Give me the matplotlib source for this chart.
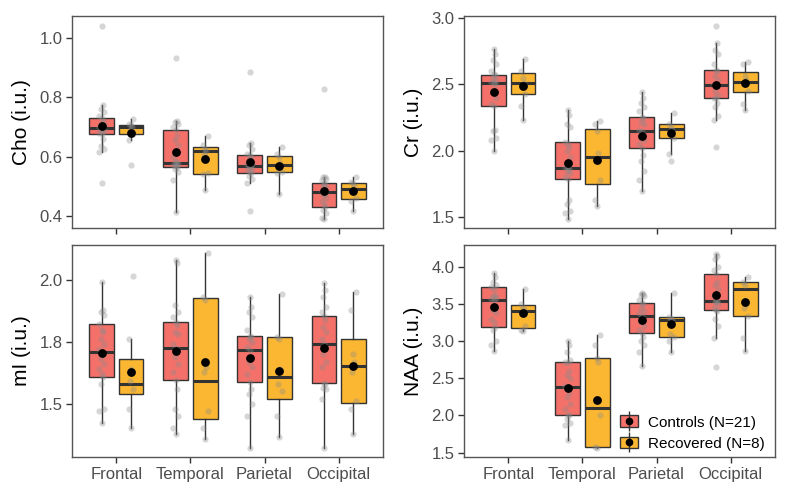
import numpy as np
from matplotlib import pyplot as plt
from matplotlib.patches import Patch
from matplotlib.lines import Line2D

plt.rcParams['font.family'] = ['Liberation Sans', 'DejaVu Sans']

regions = ['Frontal', 'Temporal', 'Parietal', 'Occipital']
groups = ['Controls (N=21)', 'Recovered (N=8)']
colors = ['#F4716A', '#FBB731']

# box rows: [whisker low, q1, median, q3, whisker high], one row per region
cho_ctl_box = [[0.615, 0.677, 0.696, 0.730, 0.774],
               [0.415, 0.565, 0.577, 0.690, 0.719],
               [0.512, 0.546, 0.569, 0.604, 0.645],
               [0.390, 0.431, 0.480, 0.513, 0.532]]
cho_ctl_mean = [0.704, 0.615, 0.583, 0.485]
cho_rec_box = [[0.655, 0.675, 0.701, 0.707, 0.727],
               [0.487, 0.542, 0.619, 0.632, 0.668],
               [0.473, 0.548, 0.573, 0.603, 0.634],
               [0.418, 0.456, 0.492, 0.512, 0.532]]
cho_rec_mean = [0.681, 0.592, 0.570, 0.483]
cho_ctl_pts = [[0.51, 0.615, 0.625, 0.635, 0.66, 0.677, 0.68, 0.685, 0.69, 0.693, 0.696,
                0.70, 0.705, 0.71, 0.72, 0.73, 0.735, 0.75, 0.76, 0.774, 1.04],
               [0.415, 0.52, 0.55, 0.56, 0.565, 0.57, 0.572, 0.575, 0.577, 0.58, 0.585,
                0.60, 0.64, 0.655, 0.67, 0.69, 0.70, 0.71, 0.715, 0.719, 0.931],
               [0.418, 0.512, 0.525, 0.535, 0.546, 0.55, 0.555, 0.56, 0.565, 0.569, 0.572,
                0.575, 0.58, 0.59, 0.60, 0.604, 0.61, 0.625, 0.64, 0.645, 0.883],
               [0.39, 0.395, 0.41, 0.42, 0.431, 0.44, 0.45, 0.46, 0.47, 0.475, 0.48,
                0.485, 0.49, 0.50, 0.505, 0.513, 0.52, 0.525, 0.53, 0.532, 0.829]]
cho_rec_pts = [[0.573, 0.655, 0.675, 0.69, 0.70, 0.705, 0.71, 0.727],
               [0.487, 0.54, 0.545, 0.61, 0.62, 0.625, 0.64, 0.668],
               [0.473, 0.545, 0.55, 0.565, 0.58, 0.60, 0.61, 0.634],
               [0.418, 0.45, 0.46, 0.48, 0.50, 0.51, 0.515, 0.532]]

cr_ctl_box = [[1.999, 2.333, 2.510, 2.572, 2.768],
              [1.486, 1.785, 1.871, 2.066, 2.303],
              [1.700, 2.024, 2.146, 2.253, 2.440],
              [2.235, 2.395, 2.497, 2.609, 2.810]]
cr_ctl_mean = [2.440, 1.912, 2.108, 2.497]
cr_rec_box = [[2.228, 2.427, 2.507, 2.581, 2.689],
              [1.587, 1.747, 1.954, 2.166, 2.223],
              [1.979, 2.099, 2.166, 2.198, 2.283],
              [2.303, 2.440, 2.519, 2.589, 2.669]]
cr_rec_mean = [2.490, 1.934, 2.136, 2.507]
cr_ctl_pts = [[2.0, 2.08, 2.1, 2.15, 2.16, 2.333, 2.35, 2.4, 2.45, 2.5, 2.51,
               2.52, 2.53, 2.55, 2.57, 2.575, 2.6, 2.65, 2.68, 2.73, 2.768],
              [1.486, 1.53, 1.55, 1.6, 1.63, 1.785, 1.8, 1.83, 1.85, 1.86, 1.871,
               1.88, 1.95, 2.0, 2.03, 2.05, 2.066, 2.18, 2.2, 2.27, 2.303],
              [1.70, 1.78, 1.85, 1.92, 1.97, 2.024, 2.05, 2.08, 2.1, 2.12, 2.146,
               2.16, 2.2, 2.22, 2.25, 2.253, 2.3, 2.33, 2.36, 2.4, 2.44],
              [2.029, 2.235, 2.26, 2.33, 2.36, 2.395, 2.40, 2.42, 2.45, 2.48, 2.497,
               2.5, 2.53, 2.56, 2.6, 2.609, 2.65, 2.73, 2.76, 2.81, 2.938]]
cr_rec_pts = [[2.228, 2.34, 2.43, 2.48, 2.51, 2.55, 2.6, 2.689],
              [1.587, 1.63, 1.78, 1.93, 1.98, 2.15, 2.2, 2.223],
              [1.922, 1.979, 2.1, 2.13, 2.16, 2.18, 2.2, 2.283],
              [2.303, 2.35, 2.45, 2.5, 2.53, 2.56, 2.65, 2.669]]

mi_ctl_box = [[1.422, 1.608, 1.707, 1.822, 1.993],
              [1.376, 1.595, 1.727, 1.831, 2.081],
              [1.322, 1.588, 1.716, 1.773, 1.932],
              [1.322, 1.584, 1.741, 1.855, 1.989]]
mi_ctl_mean = [1.705, 1.712, 1.686, 1.726]
mi_rec_box = [[1.403, 1.538, 1.581, 1.682, 1.761],
              [1.358, 1.439, 1.591, 1.926, 2.108],
              [1.365, 1.520, 1.608, 1.768, 1.943],
              [1.376, 1.503, 1.651, 1.761, 1.953]]
mi_rec_mean = [1.628, 1.669, 1.632, 1.653]
mi_ctl_pts = [[1.422, 1.47, 1.48, 1.58, 1.608, 1.62, 1.64, 1.66, 1.68, 1.70, 1.707,
               1.72, 1.74, 1.76, 1.79, 1.80, 1.822, 1.86, 1.87, 1.88, 1.993],
              [1.376, 1.40, 1.45, 1.48, 1.56, 1.595, 1.63, 1.66, 1.69, 1.72, 1.727,
               1.74, 1.78, 1.79, 1.82, 1.831, 1.85, 1.87, 1.90, 2.07, 2.081],
              [1.322, 1.45, 1.50, 1.54, 1.56, 1.588, 1.62, 1.65, 1.67, 1.69, 1.716,
               1.73, 1.75, 1.76, 1.77, 1.773, 1.80, 1.85, 1.87, 1.89, 1.932],
              [1.322, 1.52, 1.56, 1.565, 1.58, 1.584, 1.65, 1.67, 1.70, 1.72, 1.741,
               1.76, 1.79, 1.81, 1.84, 1.855, 1.87, 1.89, 1.93, 1.96, 1.989]]
mi_rec_pts = [[1.403, 1.48, 1.56, 1.59, 1.63, 1.64, 1.761, 2.018],
              [1.358, 1.40, 1.47, 1.63, 1.65, 1.92, 1.93, 2.108],
              [1.365, 1.45, 1.55, 1.58, 1.64, 1.76, 1.77, 1.943],
              [1.376, 1.48, 1.51, 1.63, 1.67, 1.70, 1.88, 1.953]]

naa_ctl_box = [[2.869, 3.192, 3.551, 3.722, 3.910],
               [1.666, 2.003, 2.384, 2.712, 3.000],
               [2.667, 3.102, 3.336, 3.506, 3.641],
               [3.035, 3.417, 3.542, 3.901, 4.171]]
naa_ctl_mean = [3.461, 2.375, 3.282, 3.618]
naa_rec_box = [[3.130, 3.170, 3.408, 3.484, 3.695],
               [1.560, 1.576, 2.101, 2.770, 3.080],
               [2.855, 3.057, 3.282, 3.327, 3.641],
               [2.869, 3.336, 3.695, 3.798, 3.865]]
naa_rec_mean = [3.381, 2.205, 3.224, 3.529]
naa_ctl_pts = [[2.869, 2.95, 3.0, 3.15, 3.192, 3.25, 3.3, 3.38, 3.42, 3.45, 3.551,
                3.56, 3.58, 3.6, 3.62, 3.7, 3.722, 3.75, 3.8, 3.86, 3.91],
               [1.666, 1.87, 1.9, 1.95, 2.0, 2.003, 2.08, 2.15, 2.25, 2.3, 2.384,
                2.4, 2.5, 2.55, 2.6, 2.7, 2.712, 2.75, 2.85, 2.95, 3.0],
               [2.667, 2.85, 2.95, 3.0, 3.05, 3.102, 3.15, 3.2, 3.25, 3.3, 3.336,
                3.38, 3.4, 3.45, 3.5, 3.506, 3.55, 3.6, 3.62, 3.63, 3.641],
               [2.653, 3.035, 3.2, 3.3, 3.4, 3.417, 3.45, 3.5, 3.52, 3.54, 3.542,
                3.6, 3.7, 3.75, 3.8, 3.901, 3.95, 4.0, 4.1, 4.15, 4.171]]
naa_rec_pts = [[3.13, 3.15, 3.2, 3.38, 3.42, 3.45, 3.5, 3.695],
               [1.56, 1.576, 2.0, 2.2, 2.72, 2.77, 2.95, 3.08],
               [2.855, 3.0, 3.06, 3.1, 3.28, 3.3, 3.33, 3.641],
               [2.869, 3.04, 3.336, 3.45, 3.5, 3.75, 3.8, 3.865]]

JITTER = [0, -0.03, 0.03, -0.015, 0.015]
EDGE = '#333333'


def draw_group(ax, boxes, means, pts, offset, color):
    pos = np.arange(1, len(regions) + 1) + offset
    stats = [dict(whislo=b[0], q1=b[1], med=b[2], q3=b[3], whishi=b[4], fliers=[])
             for b in boxes]
    ax.bxp(stats, positions=pos, widths=0.33, patch_artist=True, showcaps=False,
           showfliers=False,
           boxprops=dict(facecolor=color, edgecolor=EDGE, linewidth=1.0),
           whiskerprops=dict(color=EDGE, linewidth=1.0),
           medianprops=dict(color=EDGE, linewidth=2.2))
    for p, vals in zip(pos, pts):
        xs = [p + JITTER[i % len(JITTER)] for i in range(len(vals))]
        ax.scatter(xs, vals, s=20, color='#8a8a8a', alpha=0.35, linewidths=0, zorder=4)
    ax.scatter(pos, means, s=28, color='black', zorder=5)


def setup(ax, label, ticks, ticklabels, ylim, show_x):
    ax.set_xlim(0.4, 4.6)
    ax.set_ylim(*ylim)
    ax.set_yticks(ticks)
    ax.set_yticklabels(ticklabels)
    ax.set_xticks(range(1, 5))
    ax.set_xticklabels(regions if show_x else [])
    ax.tick_params(colors='#333333', labelcolor='#4d4d4d', labelsize=12, length=4,
                   width=1.0, pad=3)
    for s in ax.spines.values():
        s.set_color('#555555')
        s.set_linewidth(1.0)
    ax.set_ylabel(label, fontsize=15, labelpad=6)


fig = plt.figure(figsize=(7.87, 4.93), dpi=100)
lefts = [72 / 787, 464 / 787]
bottoms = [1 - 228 / 493, 1 - 457 / 493]
w = 311 / 787
h = 212 / 493

panels = [
    ('Cho (i.u.)', cho_ctl_box, cho_ctl_mean, cho_ctl_pts, cho_rec_box, cho_rec_mean, cho_rec_pts,
     [0.4, 0.6, 0.8, 1.0], ['0.4', '0.6', '0.8', '1.0'], (0.36, 1.073)),
    ('Cr (i.u.)', cr_ctl_box, cr_ctl_mean, cr_ctl_pts, cr_rec_box, cr_rec_mean, cr_rec_pts,
     [1.5, 2.0, 2.5, 3.0], ['1.5', '2.0', '2.5', '3.0'], (1.42, 3.013)),
    ('mI (i.u.)', mi_ctl_box, mi_ctl_mean, mi_ctl_pts, mi_rec_box, mi_rec_mean, mi_rec_pts,
     [1.5, 1.75, 2.0], ['1.5', '1.8', '2.0'], (1.284, 2.142)),
    ('NAA (i.u.)', naa_ctl_box, naa_ctl_mean, naa_ctl_pts, naa_rec_box, naa_rec_mean, naa_rec_pts,
     [1.5, 2.0, 2.5, 3.0, 3.5, 4.0], ['1.5', '2.0', '2.5', '3.0', '3.5', '4.0'], (1.441, 4.292)),
]

axes = []
for i, pnl in enumerate(panels):
    r, c = divmod(i, 2)
    ax = fig.add_axes([lefts[c], bottoms[r], w, h])
    label, cb, cm, cp, rb, rm, rp, ticks, tl, ylim = pnl
    draw_group(ax, cb, cm, cp, -0.2, colors[0])
    draw_group(ax, rb, rm, rp, 0.2, colors[1])
    setup(ax, label, ticks, tl, ylim, r == 1)
    axes.append(ax)

handles = []
for col in colors:
    handles.append((Patch(facecolor=col, edgecolor=EDGE, linewidth=1.0),
                    Line2D([], [], marker='|', markersize=14, color=EDGE, ls='none', mew=1.0),
                    Line2D([], [], marker='o', markersize=4.5, color='black', ls='none')))
axes[3].legend(handles, groups, loc='lower right', bbox_to_anchor=(1.01, -0.035), frameon=False,
               fontsize=11, handlelength=1.2, handleheight=0.8, handletextpad=0.6,
               labelspacing=0.45)

plt.savefig('out.png', dpi=100)
